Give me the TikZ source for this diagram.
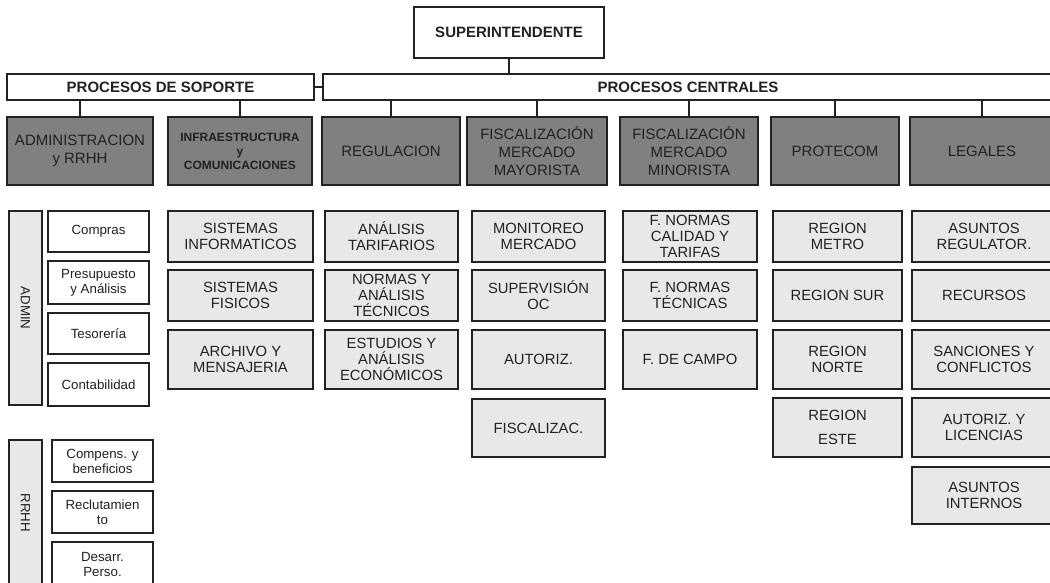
\documentclass[tikz,border=0pt]{standalone}
\usepackage{fontspec}
\setmainfont{Liberation Sans}
\definecolor{ink}{HTML}{222222}
\definecolor{deptgray}{HTML}{808080}
\definecolor{unitgray}{HTML}{E8E8E8}

% \orgbox{name}{style}{x1}{y1}{x2}{y2}{text}: box given by its corners
\newcommand{\orgbox}[7]{%
  \node[#2, minimum width={(#5-#3)*1pt}, minimum height={(#6-#4)*1pt}]
    (#1) at ({(#3+#5)/2},{(#4+#6)/2}) {#7};}

\tikzset{
  box/.style={draw=ink, line width=1.4pt, inner sep=0pt, align=center, text=ink},
  headbox/.style={box, fill=white, font=\bfseries\fontsize{15}{17}\selectfont},
  deptbox/.style={box, fill=deptgray, font=\fontsize{15}{18}\selectfont},
  infrabox/.style={box, fill=deptgray, font=\bfseries\fontsize{12}{14}\selectfont},
  unitbox/.style={box, fill=unitgray, font=\fontsize{14.8}{16}\selectfont},
  subbox/.style={box, fill=white, font=\fontsize{13.3}{15}\selectfont},
  sidebox/.style={box, fill=unitgray, font=\fontsize{13.3}{15}\selectfont, rotate=-90},
  link/.style={draw=ink, line width=1.1pt},
}

\begin{document}
\begin{tikzpicture}[x=1pt, y=-1pt]
\useasboundingbox (0,0) rectangle (1050,583);
\clip (0,0) rectangle (1050,583);

% top level
\orgbox{sup}{headbox}{414}{7}{604}{58}{SUPERINTENDENTE}
\orgbox{sop}{headbox}{7}{74}{314}{100}{PROCESOS DE SOPORTE}
\orgbox{cen}{headbox}{323}{74}{1053}{100}{PROCESOS CENTRALES}

% departments
\orgbox{adm}{deptbox}{7}{117}{153}{185}{ADMINISTRACION\\y RRHH}
\orgbox{inf}{infrabox}{168}{117}{312}{185}{INFRAESTRUCTURA\\y\\COMUNICACIONES}
\orgbox{reg}{deptbox}{322}{117}{460}{185}{REGULACION}
\orgbox{may}{deptbox}{467}{117}{607}{185}{FISCALIZACIÓN\\MERCADO\\MAYORISTA}
\orgbox{min}{deptbox}{620}{117}{758}{185}{FISCALIZACIÓN\\MERCADO\\MINORISTA}
\orgbox{pro}{deptbox}{771}{117}{899}{185}{PROTECOM}
\orgbox{leg}{deptbox}{910}{117}{1054}{185}{LEGALES}

% connectors
\draw[link] (sup.south) -- (sup.south |- cen.north);
\draw[link] (sop.east) -- (cen.west);
\foreach \d in {adm,inf}
  \draw[link] (\d.north) -- (\d.north |- sop.south);
\foreach \d in {reg,may,min,pro,leg}
  \draw[link] (\d.north) -- (\d.north |- cen.south);

% administration
\node[sidebox, minimum width=194pt, minimum height=33pt] (admside) at (25.5,308) {ADMIN};
\orgbox{compras}{subbox}{48}{211}{149}{252}{Compras}
\orgbox{presup}{subbox}{48}{261}{149}{304}{Presupuesto\\y Análisis}
\orgbox{tesor}{subbox}{48}{313}{149}{354}{Tesorería}
\orgbox{contab}{subbox}{48}{363}{149}{406}{Contabilidad}

% human resources
\node[sidebox, minimum width=146pt, minimum height=33pt] (rrhhside) at (25.5,513) {RRHH};
\orgbox{compens}{subbox}{52}{440}{153}{482}{Compens. y\\beneficios}
\orgbox{reclut}{subbox}{52}{491}{153}{533}{Reclutamien\\to}
\orgbox{desarr}{subbox}{52}{542}{153}{586}{Desarr.\\Perso.}

% infrastructure
\orgbox{sinf}{unitbox}{168}{211}{313}{262}{SISTEMAS\\INFORMATICOS}
\orgbox{sfis}{unitbox}{168}{270}{313}{321}{SISTEMAS\\FISICOS}
\orgbox{arch}{unitbox}{168}{330}{313}{389}{ARCHIVO Y\\MENSAJERIA}

% regulation
\orgbox{atar}{unitbox}{325}{211}{458}{262}{ANÁLISIS\\TARIFARIOS}
\orgbox{ntec}{unitbox}{325}{270}{458}{321}{NORMAS Y\\ANÁLISIS\\TÉCNICOS}
\orgbox{eeco}{unitbox}{325}{330}{458}{389}{ESTUDIOS Y\\ANÁLISIS\\ECONÓMICOS}

% wholesale market
\orgbox{mon}{unitbox}{472}{211}{605}{262}{MONITOREO\\MERCADO}
\orgbox{sup oc}{unitbox}{472}{270}{605}{321}{SUPERVISIÓN\\OC}
\orgbox{aut}{unitbox}{472}{330}{605}{389}{AUTORIZ.}
\orgbox{fisc}{unitbox}{472}{399}{605}{457}{FISCALIZAC.}

% retail market
\orgbox{fnc}{unitbox}{623}{211}{757}{262}{F. NORMAS\\CALIDAD Y\\TARIFAS}
\orgbox{fnt}{unitbox}{623}{270}{757}{321}{F. NORMAS\\TÉCNICAS}
\orgbox{fdc}{unitbox}{623}{330}{757}{389}{F. DE CAMPO}

% protecom
\orgbox{rmet}{unitbox}{773}{211}{902}{262}{REGION\\METRO}
\orgbox{rsur}{unitbox}{773}{270}{902}{321}{REGION SUR}
\orgbox{rnor}{unitbox}{773}{330}{902}{389}{REGION\\NORTE}
\orgbox{rest}{unitbox}{773}{398}{902}{457}{REGION\\[8pt]ESTE}

% legal
\orgbox{areg}{unitbox}{912}{211}{1056}{262}{ASUNTOS\\REGULATOR.}
\orgbox{recu}{unitbox}{912}{270}{1056}{321}{RECURSOS}
\orgbox{sanc}{unitbox}{912}{330}{1056}{389}{SANCIONES Y\\CONFLICTOS}
\orgbox{alic}{unitbox}{912}{398}{1056}{457}{AUTORIZ. Y\\LICENCIAS}
\orgbox{aint}{unitbox}{912}{467}{1056}{524}{ASUNTOS\\INTERNOS}
\end{tikzpicture}
\end{document}
